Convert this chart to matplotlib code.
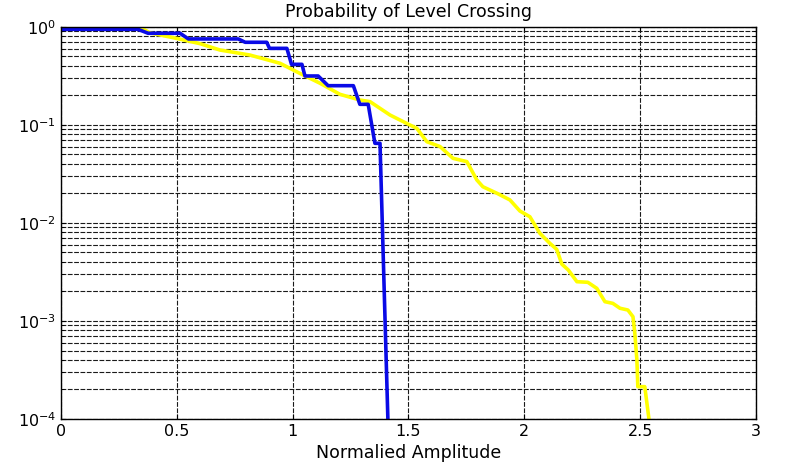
"""Probability of level crossing: blue staircase vs yellow curve (log y)."""

import numpy as np
import matplotlib
matplotlib.use("Agg")
import matplotlib.pyplot as plt

plt.rcParams["font.family"] = ["DejaVu Sans"]
plt.rcParams["mathtext.fontset"] = "dejavusans"

# blue curve vertices: amplitude, log10 probability
blue_x = [0.0, 0.332, 0.376, 0.514, 0.55, 0.765, 0.795, 0.888, 0.90, 0.975,
          0.995, 1.04, 1.053, 1.11, 1.153, 1.262, 1.29, 1.326, 1.355, 1.377,
          1.411, 1.414]
blue_logp = [-0.0235, -0.0235, -0.064, -0.064, -0.122, -0.122, -0.156, -0.156,
             -0.218, -0.218, -0.381, -0.381, -0.5, -0.5, -0.599, -0.599,
             -0.789, -0.789, -1.187, -1.187, -4.0, -4.3]

# yellow curve vertices
yellow_x = [0.0, 0.35, 0.384, 0.49, 0.6, 0.686, 0.815, 0.945, 1.03, 1.118,
            1.204, 1.29, 1.334, 1.42, 1.463, 1.506, 1.536, 1.579, 1.636,
            1.692, 1.752, 1.795, 1.821, 1.882, 1.938, 1.981, 2.024, 2.067,
            2.11, 2.14, 2.162, 2.19, 2.227, 2.274, 2.313, 2.348, 2.382, 2.413,
            2.447, 2.469, 2.477, 2.486, 2.49, 2.52, 2.538, 2.545]
yellow_logp = [-0.015, -0.015, -0.06, -0.112, -0.17, -0.235, -0.286, -0.37,
               -0.472, -0.574, -0.687, -0.745, -0.762, -0.898, -0.949, -1.0,
               -1.034, -1.17, -1.22, -1.34, -1.374, -1.561, -1.63, -1.697,
               -1.765, -1.878, -1.936, -2.105, -2.207, -2.27, -2.42, -2.48,
               -2.599, -2.605, -2.667, -2.803, -2.82, -2.87, -2.888, -2.956,
               -3.126, -3.4, -3.67, -3.67, -4.0, -4.3]

GRID = dict(color="#1a1a1a", ls=(0, (4.3, 1.4)), lw=0.8)


def main():
    fig = plt.figure(figsize=(8.05, 4.71), dpi=100)
    ax = fig.add_axes([0.0758, 0.1104, 0.8633, 0.8323])

    ax.plot(yellow_x, 10 ** np.array(yellow_logp), color="#FFFF00", lw=2.6)
    ax.plot(blue_x, 10 ** np.array(blue_logp), color="#0A0AE6", lw=2.6)

    ax.set_yscale("log")
    ax.set_xlim(0, 3)
    ax.set_ylim(1e-4, 1)
    ax.set_xticks([0, 0.5, 1, 1.5, 2, 2.5, 3])
    ax.set_xticklabels(["0", "0.5", "1", "1.5", "2", "2.5", "3"])
    ax.set_yticks([1e-4, 1e-3, 1e-2, 1e-1, 1])

    ax.grid(True, which="major", axis="both", **GRID)
    ax.grid(True, which="minor", axis="y", **GRID)
    ax.tick_params(which="both", direction="in", top=True, right=True,
                   labelsize=11.5)
    ax.tick_params(axis="x", which="minor", bottom=False, top=False)
    for sp in ax.spines.values():
        sp.set_linewidth(1.0)

    ax.set_title("Probability of Level Crossing", fontsize=12.5, pad=7)
    ax.set_xlabel("Normalied Amplitude", fontsize=12.5, labelpad=4)

    fig.savefig("out.png", dpi=100)


if __name__ == "__main__":
    main()
